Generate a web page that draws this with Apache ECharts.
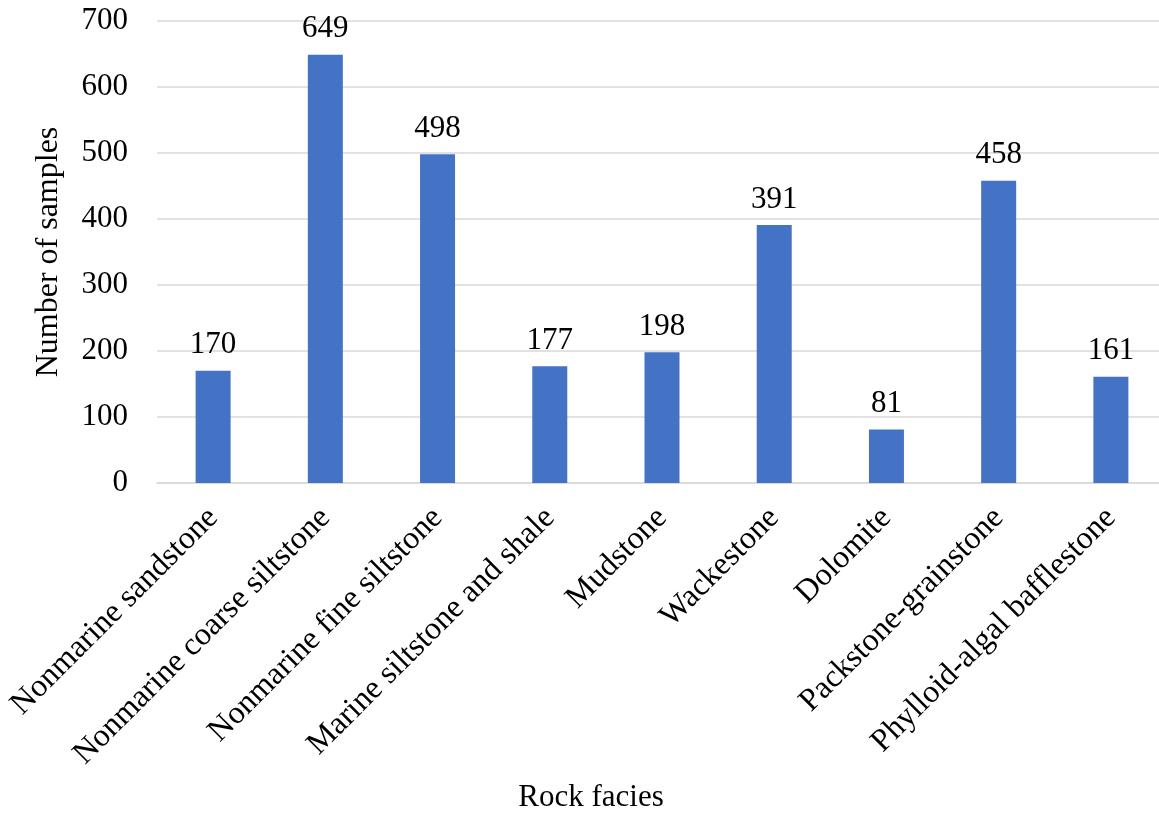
<!DOCTYPE html>
<html><head><meta charset="utf-8">
<script src="https://cdn.jsdelivr.net/npm/echarts@6/dist/echarts.min.js"></script>
<style>html,body{margin:0;padding:0;background:#fff}#c{width:1159px;height:814px}</style>
</head><body><div id="c"></div>
<script>
const categories = ["Nonmarine sandstone","Nonmarine coarse siltstone","Nonmarine fine siltstone","Marine siltstone and shale","Mudstone","Wackestone","Dolomite","Packstone-grainstone","Phylloid-algal bafflestone"];
const values = [170,649,498,177,198,391,81,458,161];
const yTicks = [0,100,200,300,400,500,600,700];
const font = "Liberation Serif";
const fs = 31;
const chart = echarts.init(document.getElementById('c'), null, {renderer:'canvas'});
chart.setOption({
  animation:false,
  backgroundColor:'#fff',
  grid:{left:157, right:-8, top:21, bottom:331, containLabel:false, outerBoundsMode:'none'},
  graphic:[{type:'text', x:591, y:798, style:{text:'Rock facies', fontFamily:font, fontSize:fs, fill:'#000', textAlign:'center', textVerticalAlign:'middle'}}],
  xAxis:{type:'category', data:categories,
    axisLine:{lineStyle:{color:'#d9d9d9', width:1.5}}, axisTick:{show:false},
    axisLabel:{rotate:45, interval:0, fontFamily:font, fontSize:32, color:'#000', margin:30}},
  yAxis:{type:'value', min:yTicks[0], max:yTicks[yTicks.length-1], interval:100,
    name:'Number of samples', nameLocation:'middle', nameGap:92,
    nameTextStyle:{fontFamily:font, fontSize:32, color:'#000'},
    axisLine:{show:false}, axisTick:{show:false},
    splitLine:{lineStyle:{color:'#d9d9d9', width:1.5}},
    axisLabel:{fontFamily:font, fontSize:fs, color:'#000', margin:29}},
  series:[{type:'bar', data:values, barWidth:35,
    itemStyle:{color:'#4472C4'},
    label:{show:true, position:'top', distance:10, fontFamily:font, fontSize:fs, color:'#000'}}]
});
</script></body></html>
